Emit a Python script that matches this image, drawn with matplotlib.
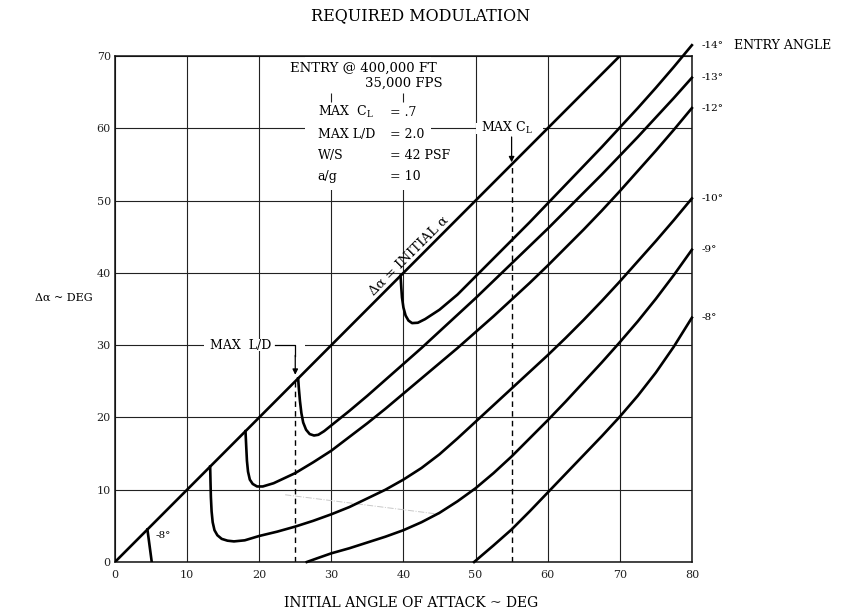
import matplotlib.pyplot as plt
from matplotlib.patches import Rectangle

plt.rcParams['font.family'] = ['DejaVu Serif']
plt.rcParams['mathtext.fontset'] = 'dejavuserif'

# ==============================
# DATA
# ==============================

X_TICKS = [0, 10, 20, 30, 40, 50, 60, 70, 80]
Y_TICKS = [0, 10, 20, 30, 40, 50, 60, 70]

# delta alpha = initial alpha
diag_x = [0, 70]
diag_y = [0, 70]

# entry angle curves (initial alpha, delta alpha)
m14_x = [39.6, 39.7, 39.8, 40.0, 40.3, 40.7, 41.2, 42.0, 43.0, 45.0, 47.5, 50.0,
         52.5, 55.0, 57.5, 60.0, 62.5, 65.0, 67.5, 70.0, 72.5, 75.0, 77.5, 80.0]
m14_y = [39.6, 38.0, 36.6, 35.2, 34.1, 33.4, 33.05, 33.1, 33.6, 34.9, 37.0, 39.5,
         42.0, 44.5, 47.0, 49.6, 52.2, 54.8, 57.4, 60.1, 62.8, 65.6, 68.5, 71.5]

m13_x = [25.4, 25.5, 25.65, 25.85, 26.1, 26.5, 27.0, 27.6, 28.2, 29.0, 30.0, 32.5,
         35.0, 37.5, 40.0, 42.5, 45.0, 47.5, 50.0, 52.5, 55.0, 57.5, 60.0, 62.5,
         65.0, 67.5, 70.0, 72.5, 75.0, 77.5, 80.0]
m13_y = [25.4, 24.0, 22.3, 20.6, 19.3, 18.3, 17.7, 17.5, 17.6, 18.1, 18.9, 20.9,
         23.0, 25.2, 27.4, 29.6, 31.9, 34.2, 36.5, 38.9, 41.3, 43.7, 46.1, 48.6,
         51.1, 53.6, 56.2, 58.8, 61.5, 64.2, 67.0]

m12_x = [18.1, 18.2, 18.3, 18.45, 18.7, 19.1, 19.7, 20.5, 22.0, 25.0, 27.5, 30.0,
         32.5, 35.0, 37.5, 40.0, 42.5, 45.0, 47.5, 50.0, 52.5, 55.0, 57.5, 60.0,
         62.5, 65.0, 67.5, 70.0, 72.5, 75.0, 77.5, 80.0]
m12_y = [18.1, 16.0, 14.0, 12.5, 11.4, 10.8, 10.45, 10.45, 10.9, 12.3, 13.8, 15.4,
         17.3, 19.2, 21.2, 23.3, 25.4, 27.5, 29.6, 31.8, 34.0, 36.3, 38.6, 41.0,
         43.5, 46.0, 48.6, 51.3, 54.1, 56.9, 59.8, 62.8]

m10_x = [13.2, 13.25, 13.3, 13.4, 13.55, 13.8, 14.2, 14.8, 15.6, 16.5, 18.0, 20.0,
         22.5, 25.0, 27.5, 30.0, 32.5, 35.0, 37.5, 40.0, 42.5, 45.0, 47.5, 50.0,
         52.5, 55.0, 57.5, 60.0, 62.5, 65.0, 67.5, 70.0, 72.5, 75.0, 77.5, 80.0]
m10_y = [13.2, 11.0, 9.0, 7.0, 5.5, 4.4, 3.7, 3.2, 2.95, 2.85, 3.0, 3.6,
         4.2, 4.9, 5.7, 6.6, 7.6, 8.8, 10.0, 11.4, 13.0, 14.9, 17.1, 19.4,
         21.7, 24.0, 26.3, 28.6, 31.0, 33.5, 36.1, 38.8, 41.6, 44.4, 47.3, 50.3]

m9_x = [26.6, 28.0, 30.0, 32.5, 35.0, 37.5, 40.0, 42.5, 45.0, 47.5, 50.0, 52.5,
        55.0, 57.5, 60.0, 62.5, 65.0, 67.5, 70.0, 72.5, 75.0, 77.5, 80.0]
m9_y = [0.0, 0.5, 1.2, 1.9, 2.7, 3.5, 4.4, 5.5, 6.8, 8.4, 10.2, 12.3,
        14.6, 17.1, 19.6, 22.2, 24.9, 27.6, 30.4, 33.3, 36.4, 39.7, 43.2]

m8_x = [49.8, 52.5, 55.0, 57.5, 60.0, 62.5, 65.0, 67.5, 70.0, 72.5, 75.0, 77.5, 80.0]
m8_y = [0.0, 2.3, 4.5, 7.0, 9.6, 12.2, 14.8, 17.4, 20.1, 23.0, 26.2, 29.8, 33.8]

# short curve at the lower left
low_x = [4.5, 5.1]
low_y = [4.5, 0.0]

curves = [(m14_x, m14_y), (m13_x, m13_y), (m12_x, m12_y),
          (m10_x, m10_y), (m9_x, m9_y), (m8_x, m8_y)]
curve_labels = ["-14°", "-13°", "-12°", "-10°", "-9°", "-8°"]

# max L/D and max CL lines
max_ld_alpha = 25
max_ld_delta = 25.9
max_cl_alpha = 55
max_cl_delta = 55.3

# ==============================
# FIGURE
# ==============================

fig = plt.figure(figsize=(8.41, 6.13), dpi=100)
ax = fig.add_axes([0.1367, 0.0832, 0.686, 0.8254])
ax.set_xlim(0, 80)
ax.set_ylim(0, 70)

ax.set_xticks(X_TICKS)
ax.set_yticks(Y_TICKS)
ax.tick_params(length=0, labelsize=8, colors='#222222')
ax.tick_params(axis='x', pad=6)
ax.tick_params(axis='y', pad=3)
ax.grid(True, color='#222222', lw=0.8, zorder=0.5)
ax.set_axisbelow(True)
for sp in ax.spines.values():
    sp.set_linewidth(1.1)
    sp.set_color('#111111')

# blank areas behind the notes and labels
ax.add_patch(Rectangle((26.3, 51.5), 17.5, 18.3, facecolor='white',
                       edgecolor='none', zorder=1))
ax.add_patch(Rectangle((12.4, 29.2), 14.0, 1.6, facecolor='white',
                       edgecolor='none', zorder=1))
ax.add_patch(Rectangle((50.1, 59.2), 9.3, 1.6, facecolor='white',
                       edgecolor='none', zorder=1))
ax.vlines([30, 40], 63.6, 64.9, color='#222222', lw=0.8, zorder=2)

# curves
ax.plot(diag_x, diag_y, color='black', lw=1.9, zorder=3, solid_capstyle='butt')
for (cx, cy), lab in zip(curves, curve_labels):
    ax.plot(cx, cy, color='black', lw=1.9, zorder=3, clip_on=False)
    ax.text(81.4, cy[-1], lab, fontsize=7.5, ha='left', va='center', clip_on=False)
ax.text(85.8, m14_y[-1], "ENTRY ANGLE", fontsize=9, ha='left', va='center', clip_on=False)
ax.plot(low_x, low_y, color='black', lw=1.9, zorder=3)
ax.text(5.6, 3.7, "-8°", fontsize=7.5, ha='left', va='center')

# faint trace in the middle
ax.plot([23.6, 45.0], [9.3, 6.6], color='#c8c8c8', lw=0.7, ls='-.', zorder=2)

# max L/D
ax.plot([max_ld_alpha, max_ld_alpha], [0, max_ld_delta - 0.6], color='black',
        lw=1.0, ls=(0, (4, 3)), zorder=2)
ax.text(13.2, 30, "MAX  L/D", fontsize=9, ha='left', va='center', zorder=2)
ax.plot([22.2, max_ld_alpha, max_ld_alpha], [30, 30, 28.5], color='black', lw=0.9, zorder=2)
ax.annotate("", xy=(max_ld_alpha, max_ld_delta), xytext=(max_ld_alpha, 28.6),
            arrowprops=dict(arrowstyle='-|>', color='black', lw=0.9,
                            mutation_scale=8, shrinkA=0, shrinkB=0), zorder=3)

# max CL
ax.plot([max_cl_alpha, max_cl_alpha], [0, max_cl_delta - 0.6], color='black',
        lw=1.0, ls=(0, (4, 3)), zorder=2)
ax.text(50.8, 60, r"MAX C$_\mathregular{L}$", fontsize=9, ha='left', va='center', zorder=2)
ax.annotate("", xy=(max_cl_alpha, max_cl_delta), xytext=(max_cl_alpha, 58.8),
            arrowprops=dict(arrowstyle='-|>', color='black', lw=0.9,
                            mutation_scale=8, shrinkA=0, shrinkB=0), zorder=3)

# label along the diagonal
ax.text(41.4, 41.7, "Δα = INITIAL α", fontsize=9.5, rotation=45,
        rotation_mode='anchor', ha='center', va='bottom', zorder=3)

# condition notes
ax.text(24.3, 68.3, "ENTRY @ 400,000 FT", fontsize=9.5, ha='left', va='center', zorder=2,
        bbox=dict(facecolor='white', edgecolor='none', pad=1.0))
ax.text(34.7, 66.2, "35,000 FPS", fontsize=9.5, ha='left', va='center', zorder=2)
notes_left = [r"MAX  C$_\mathregular{L}$", "MAX L/D", "W/S", "a/g"]
notes_right = ["= .7", "= 2.0", "= 42 PSF", "= 10"]
notes_y = [62.2, 59.2, 56.3, 53.3]
for lt, rt, ny in zip(notes_left, notes_right, notes_y):
    ax.text(28.1, ny, lt, fontsize=9, ha='left', va='center', zorder=2)
    ax.text(38.2, ny, rt, fontsize=9, ha='left', va='center', zorder=2)

# titles
fig.text(0.5, 0.975, "REQUIRED MODULATION", fontsize=11.5, ha='center', va='center')
fig.text(0.489, 0.017, "INITIAL ANGLE OF ATTACK ~ DEG", fontsize=10, ha='center', va='center')
fig.text(0.042, 0.514, "Δα ~ DEG", fontsize=8, ha='left', va='center')

fig.savefig("out.png", dpi=100)
